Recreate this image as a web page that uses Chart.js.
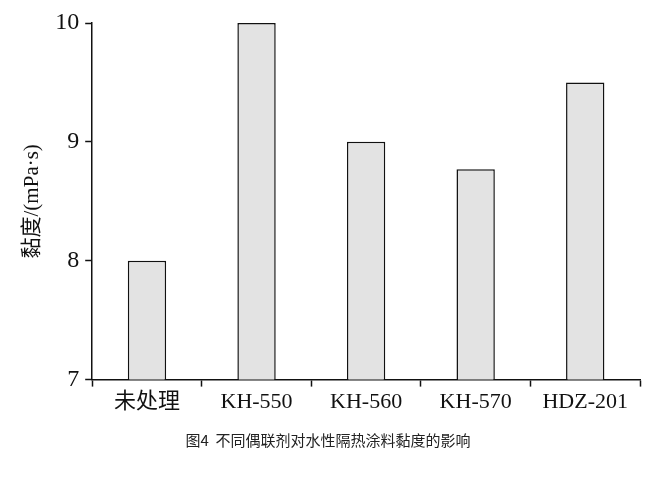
<!DOCTYPE html>
<html><head><meta charset="utf-8">
<script src="https://cdn.jsdelivr.net/npm/chart.js@4"></script>
<style>html,body{margin:0;background:#fff}#w{width:654px;height:491px}</style>
</head><body><div id="w"><canvas id="c"></canvas></div>
<script>
const categories=["未处理","KH-550","KH-560","KH-570","HDZ-201"];
const viscosity=[8.0,10.0,9.0,8.77,9.5];
const yTicks=[7,8,9,10];
const yTitle="黏度/(mPa·s)";
const caption="图4  不同偶联剂对水性隔热涂料黏度的影响";
const ff="'Liberation Serif','Noto Sans CJK SC',serif";
new Chart(document.getElementById('c'),{
type:'bar',
data:{labels:categories,datasets:[{data:viscosity,backgroundColor:'#e3e3e3',borderColor:'#111',borderWidth:1.5,barPercentage:0.35,categoryPercentage:1}]},
options:{responsive:true,maintainAspectRatio:false,animation:false,
layout:{padding:{left:16,right:14,top:23,bottom:42}},
plugins:{legend:{display:false},tooltip:{enabled:false},
title:{display:true,position:'bottom',text:caption,color:'#222',font:{family:"'Noto Sans CJK SC'",size:15,weight:'normal'},padding:{top:14,bottom:0}}},
scales:{
x:{grid:{display:true,drawOnChartArea:false,offset:true,color:'#111',tickLength:7,tickWidth:1.5},border:{color:'#111',width:1.5},
ticks:{color:'#111',font:{family:ff,size:22},padding:2,maxRotation:0}},
y:{min:7,max:10,afterBuildTicks:a=>{a.ticks=yTicks.map(v=>({value:v}));},
grid:{drawOnChartArea:false,color:'#111',tickLength:7,tickWidth:1.5},border:{color:'#111',width:1.5},
ticks:{color:'#111',font:{family:ff,size:24},padding:6},
title:{display:true,text:yTitle,color:'#111',font:{family:ff,size:21},padding:{bottom:4}}}}}
});
</script></body></html>
